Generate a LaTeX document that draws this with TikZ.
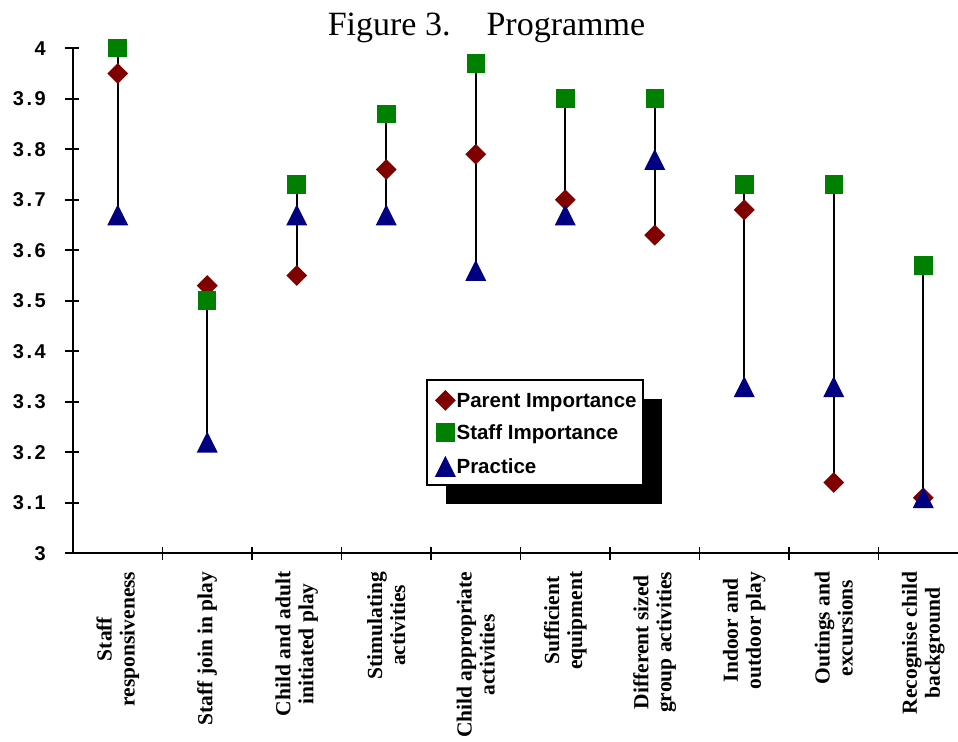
\documentclass[tikz,border=0pt]{standalone}
\usepackage{fontspec}
\setmainfont{Liberation Serif}
\newfontfamily\chartsans{Liberation Sans}
\newfontfamily\ticksans[LetterSpace=13]{Liberation Sans}
\usepackage{tikz}
\usetikzlibrary{shapes.geometric}
\definecolor{parentred}{RGB}{128,0,0}
\definecolor{staffgreen}{RGB}{0,128,0}
\definecolor{practiceblue}{RGB}{0,0,128}

\begin{document}
\begin{tikzpicture}[x=89.5pt, y=505pt,
  axisline/.style={line width=1.6pt},
  hilo/.style={line width=1.6pt},
  parentmark/.style={diamond, fill=parentred, inner sep=0pt, minimum size=21pt},
  staffmark/.style={rectangle, fill=staffgreen, inner sep=0pt, minimum size=18.5pt},
  practicemark/.style={fill=practiceblue},
  ticklabel/.style={font=\ticksans\bfseries\fontsize{20}{22}\selectfont, anchor=east, inner sep=0pt},
  catlabel/.style={font=\bfseries\fontsize{21.5}{23}\selectfont, rotate=90, anchor=east,
    align=center, inner sep=0pt},
  legendtext/.style={font=\chartsans\bfseries\fontsize{20.5}{22}\selectfont, anchor=base west, inner sep=0pt}]

  \useasboundingbox (-0.8156,2.6263) rectangle (9.8883,4.0956);

  % Title
  \node[font=\fontsize{34}{36}\selectfont, anchor=base, inner sep=0pt] (title)
    at (4.620,4.0244) {Figure 3.\hspace{36pt}Programme};

  % Axes
  \draw[axisline] (0,4) -- (0,3) -- (9.8883,3);
  \foreach \v/\t [count=\k] in {3/3, 3.1/3.1, 3.2/3.2, 3.3/3.3, 3.4/3.4,
                                3.5/3.5, 3.6/3.6, 3.7/3.7, 3.8/3.8, 3.9/3.9, 4/4} {
    \draw[axisline] (0,\v) ++(-8pt,0) -- ++(14pt,0);
    \node[ticklabel] (ytick\k) at ([xshift=-27pt]0,\v) {\t};
  }
  \foreach \i in {1,...,9}
    \draw[axisline] (\i,3) ++(0,-6.5pt) -- ++(0,13pt);

  % High-low lines and markers
  \foreach \i/\pa/\st/\pr in {1/3.95/4.00/3.67, 2/3.53/3.50/3.22, 3/3.55/3.73/3.67,
                              4/3.76/3.87/3.67, 5/3.79/3.97/3.56, 6/3.70/3.90/3.67,
                              7/3.63/3.90/3.78, 8/3.68/3.73/3.33, 9/3.14/3.73/3.33,
                              10/3.11/3.57/3.11} {
    \pgfmathsetmacro\hi{max(\pa,\st,\pr)}
    \pgfmathsetmacro\lo{min(\pa,\st,\pr)}
    \coordinate (hi\i) at (\i-0.5,\hi);
    \coordinate (lo\i) at (\i-0.5,\lo);
    \draw[hilo] (hi\i) -- (lo\i);
    \node[parentmark] (par\i) at (\i-0.5,\pa) {};
    \node[staffmark] (sta\i) at (\i-0.5,\st) {};
    \coordinate (pra\i) at (\i-0.5,\pr);
    \fill[practicemark] (pra\i) ++(-10.5pt,-10.5pt) -- ++(21pt,0) -- ++(-10.5pt,21pt) -- cycle;
  }

  % Category labels
  \foreach \i/\name in {1/{Staff\\responsiveness}, 2/{Staff join in play},
      3/{Child and adult\\initiated play}, 4/{Stimulating\\activities},
      5/{Child appropriate\\activities}, 6/{Sufficient\\equipment},
      7/{Different sized\\group activities}, 8/{Indoor and\\outdoor play},
      9/{Outings and\\excursions}, 10/{Recognise child\\background}}
    \node[catlabel] (cat\i) at (\i-0.5,2.964) {\name};

  % Legend
  \node[fill=black, minimum width=216pt, minimum height=105pt, inner sep=0pt] (legshadow)
    at ([shift={(19pt,-19pt)}]5.162,3.2392) {};
  \node[draw, fill=white, line width=1.2pt, minimum width=216pt, minimum height=105pt,
    inner sep=0pt] (legend) at ([shift={(-19pt,19pt)}]legshadow.center) {};
  \coordinate (legrow1) at ([shift={(19pt,-21pt)}]legend.north west);
  \coordinate (legrow2) at ([shift={(19pt,-53pt)}]legend.north west);
  \coordinate (legrow3) at ([shift={(19pt,-87pt)}]legend.north west);
  \node[parentmark] (legpar) at (legrow1) {};
  \node[staffmark] (legsta) at (legrow2) {};
  \fill[practicemark] (legrow3) ++(-10.5pt,-10.5pt) -- ++(21pt,0) -- ++(-10.5pt,21pt) -- cycle;
  \node[legendtext] (legtext1) at ([shift={(11pt,-7.2pt)}]legrow1) {Parent Importance};
  \node[legendtext] (legtext2) at ([shift={(11pt,-7.2pt)}]legrow2) {Staff Importance};
  \node[legendtext] (legtext3) at ([shift={(11pt,-7.2pt)}]legrow3) {Practice};

\end{tikzpicture}
\end{document}
